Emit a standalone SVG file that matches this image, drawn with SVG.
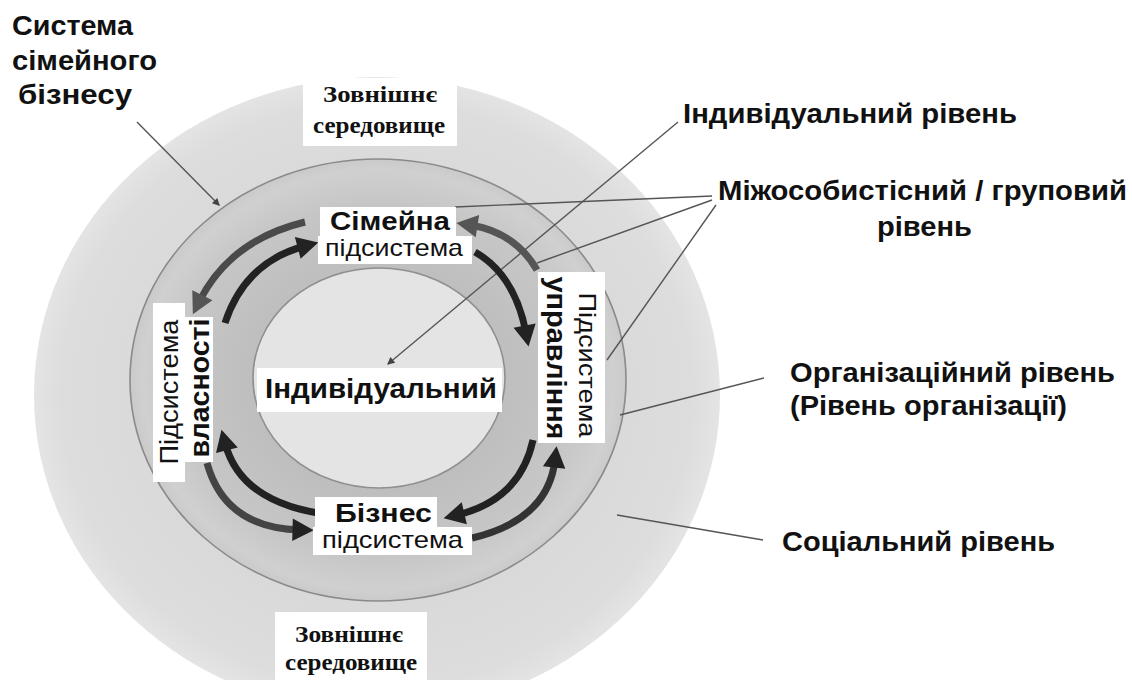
<svg xmlns="http://www.w3.org/2000/svg" width="1132" height="680" viewBox="0 0 1132 680">
<style>
.sb{font-family:"Liberation Sans",Arial,sans-serif;font-weight:bold;fill:#111}
.sr{font-family:"Liberation Sans",Arial,sans-serif;fill:#111}
.se{font-family:"Liberation Serif","Times New Roman",serif;font-weight:bold;fill:#111;font-size:23px}
.box{fill:#fff}
.lead{stroke:#555;stroke-width:1.4;fill:none}
.arc{fill:none;stroke-width:7}
</style>
<defs>
<radialGradient id="gOuter" cx="0.5" cy="0.5" r="0.5">
<stop offset="0.6" stop-color="#d8d8d8"/>
<stop offset="0.92" stop-color="#dddddd"/>
<stop offset="1" stop-color="#e4e4e4"/>
</radialGradient>
<radialGradient id="gMid" cx="0.5" cy="0.5" r="0.5">
<stop offset="0.5" stop-color="#bebebe"/>
<stop offset="0.8" stop-color="#c6c6c6"/>
<stop offset="0.95" stop-color="#d0d0d0"/>
<stop offset="1" stop-color="#cacaca"/>
</radialGradient>
<marker id="ahD" markerUnits="userSpaceOnUse" markerWidth="30" markerHeight="30" viewBox="-10 -12 24 24" refX="0" refY="0" orient="auto">
<path d="M-6,-9 L11,0 L-6,9 Z" fill="#222"/>
</marker>
<marker id="ahG" markerUnits="userSpaceOnUse" markerWidth="30" markerHeight="30" viewBox="-10 -12 24 24" refX="0" refY="0" orient="auto">
<path d="M-6,-9 L11,0 L-6,9 Z" fill="#555"/>
</marker>
<marker id="ahS" markerUnits="userSpaceOnUse" markerWidth="10" markerHeight="10" viewBox="-6 -4 8 8" refX="0" refY="0" orient="auto">
<path d="M-5,-3 L1,0 L-5,3 Z" fill="#444"/>
</marker>
</defs>
<rect width="1132" height="680" fill="#fff"/>

<g id="levels">
<ellipse id="social" cx="377" cy="395" rx="343" ry="318" fill="url(#gOuter)"/>
<ellipse id="organizational" cx="378" cy="380" rx="248" ry="221" fill="url(#gMid)" stroke="#8a8a8a" stroke-width="1.6"/>
<ellipse id="individual" cx="379" cy="378" rx="126" ry="110" fill="#e4e4e4" stroke="#8f8f8f" stroke-width="1.6"/>
</g>

<g id="connectors">
<line class="lead" x1="137" y1="122" x2="219" y2="205" marker-end="url(#ahS)"/>
<line class="lead" x1="678" y1="122" x2="388" y2="364" marker-end="url(#ahS)"/>
<line class="lead" x1="712" y1="196" x2="455" y2="207"/>
<line class="lead" x1="712" y1="200" x2="537" y2="263"/>
<line class="lead" x1="716" y1="205" x2="607" y2="360"/>
<line class="lead" x1="764" y1="378" x2="620" y2="415"/>
<line class="lead" x1="763" y1="540" x2="617" y2="515"/>
</g>

<g id="ext-top">
<rect class="box" x="303" y="78" width="154" height="68"/>
<text class="se" x="323" y="102" textLength="114" lengthAdjust="spacingAndGlyphs">Зовнішнє</text>
<text class="se" x="313" y="133" textLength="132" lengthAdjust="spacingAndGlyphs">середовище</text>
</g>
<g id="ext-bottom">
<rect class="box" x="275" y="612" width="152" height="68"/>
<text class="se" x="295" y="642" textLength="108" lengthAdjust="spacingAndGlyphs">Зовнішнє</text>
<text class="se" x="285" y="670" textLength="132" lengthAdjust="spacingAndGlyphs">середовище</text>
</g>

<g id="flows">
<path class="arc" stroke="#4a4a4a" d="M305,222 Q230,240 199,302" marker-end="url(#ahG)"/>
<path class="arc" stroke="#222" d="M225,323 Q245,262 305,246" marker-end="url(#ahD)"/>
<path class="arc" stroke="#555" d="M537,270 Q515,232 470,225" marker-end="url(#ahG)"/>
<path class="arc" stroke="#222" d="M475,252 Q515,275 526,333" marker-end="url(#ahD)"/>
<path class="arc" stroke="#222" d="M533,440 Q520,500 457,515" marker-end="url(#ahD)"/>
<path class="arc" stroke="#333" d="M472,538 Q548,520 555,460" marker-end="url(#ahD)"/>
<path class="arc" stroke="#222" d="M318,513 Q240,500 225,443" marker-end="url(#ahD)"/>
<path class="arc" stroke="#444" d="M207,463 Q225,528 300,530" marker-end="url(#ahD)"/>
</g>

<g id="family">
<rect class="box" x="320" y="207" width="136" height="30"/>
<rect class="box" x="318" y="236" width="154" height="28"/>
<text class="sb" x="330" y="230" font-size="26" textLength="120" lengthAdjust="spacingAndGlyphs">Сімейна</text>
<text class="sr" x="325" y="256" font-size="24" textLength="138" lengthAdjust="spacingAndGlyphs">підсистема</text>
</g>

<g id="business">
<rect class="box" x="315" y="497" width="122" height="31"/>
<rect class="box" x="313" y="527" width="159" height="28"/>
<text class="sb" x="335" y="522" font-size="26" textLength="97" lengthAdjust="spacingAndGlyphs">Бізнес</text>
<text class="sr" x="322" y="548" font-size="24" textLength="141" lengthAdjust="spacingAndGlyphs">підсистема</text>
</g>

<g id="individual-label">
<rect class="box" x="257" y="368" width="245" height="44"/>
<text class="sb" x="265" y="398" font-size="27" textLength="232" lengthAdjust="spacingAndGlyphs">Індивідуальний</text>
</g>

<g id="ownership">
<rect class="box" x="153" y="303" width="32" height="179"/>
<rect class="box" x="184" y="317" width="29" height="145"/>
<text class="sr" transform="translate(178,392) rotate(-90)" text-anchor="middle" font-size="26" textLength="145" lengthAdjust="spacingAndGlyphs">Підсистема</text>
<text class="sb" transform="translate(209,388) rotate(-90)" text-anchor="middle" font-size="28" textLength="139" lengthAdjust="spacingAndGlyphs">власності</text>
</g>

<g id="management">
<rect class="box" x="538" y="272" width="67" height="171"/>
<text class="sb" transform="translate(547,358) rotate(90)" text-anchor="middle" font-size="28" textLength="163" lengthAdjust="spacingAndGlyphs">управління</text>
<text class="sr" transform="translate(579,365) rotate(90)" text-anchor="middle" font-size="24" textLength="145" lengthAdjust="spacingAndGlyphs">Підсистема</text>
</g>

<g id="labels">
<text class="sb" x="12" y="35" font-size="27" textLength="121" lengthAdjust="spacingAndGlyphs">Система</text>
<text class="sb" x="12" y="70" font-size="27" textLength="145" lengthAdjust="spacingAndGlyphs">сімейного</text>
<text class="sb" x="18" y="104" font-size="27" textLength="114" lengthAdjust="spacingAndGlyphs">бізнесу</text>
<text class="sb" x="683" y="123" font-size="27" textLength="334" lengthAdjust="spacingAndGlyphs">Індивідуальний рівень</text>
<text class="sb" x="718" y="200" font-size="27" textLength="409" lengthAdjust="spacingAndGlyphs">Міжособистісний / груповий</text>
<text class="sb" x="877" y="236" font-size="27" textLength="95" lengthAdjust="spacingAndGlyphs">рівень</text>
<text class="sb" x="790" y="382" font-size="27" textLength="325" lengthAdjust="spacingAndGlyphs">Організаційний рівень</text>
<text class="sb" x="790" y="415" font-size="27" textLength="277" lengthAdjust="spacingAndGlyphs">(Рівень організації)</text>
<text class="sb" x="782" y="551" font-size="27" textLength="273" lengthAdjust="spacingAndGlyphs">Соціальний рівень</text>
</g>
</svg>
